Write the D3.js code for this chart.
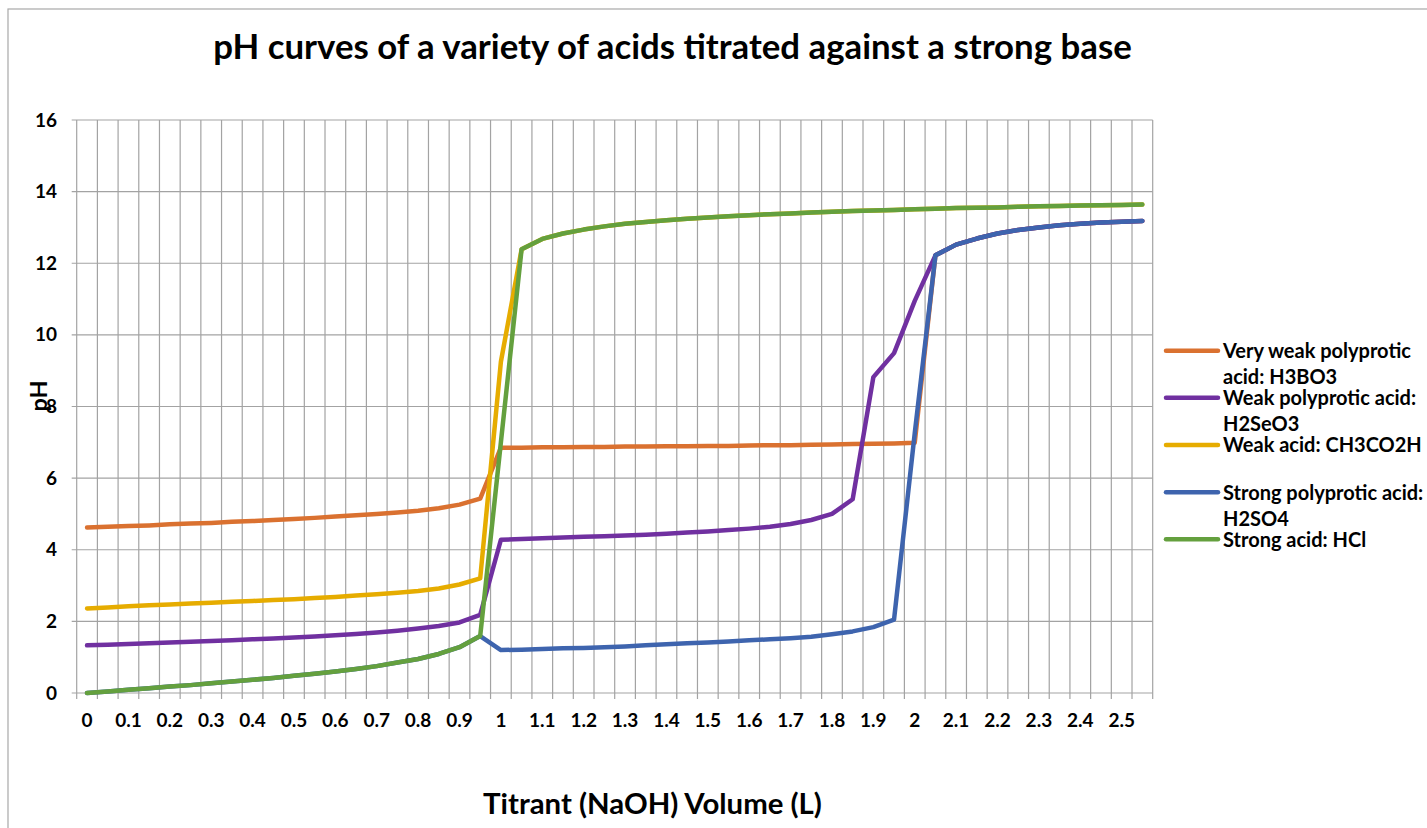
<!DOCTYPE html>
<html>
<head>
<meta charset="utf-8">
<script src="https://cdn.jsdelivr.net/npm/d3@7"></script>
<style>
  html, body { margin: 0; padding: 0; background: #fff; }
  svg { display: block; }
  text { font-family: Lato, "Open Sans", "Liberation Sans", sans-serif; font-weight: bold; fill: #000; }
</style>
</head>
<body>
<svg id="chart" width="1427" height="828"></svg>
<script>
// ---------- data ----------
const categories = ["0","0.05","0.1","0.15","0.2","0.25","0.3","0.35","0.4","0.45","0.5","0.55","0.6","0.65","0.7","0.75","0.8","0.85","0.9","0.95","1","1.05","1.1","1.15","1.2","1.25","1.3","1.35","1.4","1.45","1.5","1.55","1.6","1.65","1.7","1.75","1.8","1.85","1.9","1.95","2","2.05","2.1","2.15","2.2","2.25","2.3","2.35","2.4","2.45","2.5","2.55"];
const tickLabels = ["0","","0.1","","0.2","","0.3","","0.4","","0.5","","0.6","","0.7","","0.8","","0.9","","1","","1.1","","1.2","","1.3","","1.4","","1.5","","1.6","","1.7","","1.8","","1.9","","2","","2.1","","2.2","","2.3","","2.4","","2.5",""];
const yTicks = [0,2,4,6,8,10,12,14,16];

const h3bo3 = [4.62,4.64,4.66,4.68,4.71,4.73,4.75,4.78,4.80,4.83,4.86,4.89,4.93,4.96,5.00,5.04,5.09,5.16,5.26,5.43,
  6.85,6.85,6.86,6.86,6.87,6.87,6.88,6.88,6.89,6.89,6.90,6.90,6.91,6.92,6.92,6.93,6.94,6.95,6.96,6.97,6.99,
  12.22,12.52,12.69,12.83,12.93,13.00,13.06,13.10,13.14,13.16,13.18];
const h2seo3 = [1.33,1.35,1.37,1.39,1.41,1.43,1.45,1.47,1.50,1.52,1.55,1.58,1.61,1.65,1.69,1.74,1.80,1.87,1.97,2.18,
  4.28,4.30,4.32,4.34,4.36,4.38,4.40,4.42,4.45,4.48,4.51,4.55,4.59,4.64,4.72,4.83,5.00,5.41,8.82,9.49,10.95,
  12.22,12.52,12.69,12.83,12.93,13.00,13.06,13.10,13.14,13.16,13.18];
const ch3co2h = [2.36,2.39,2.42,2.45,2.47,2.50,2.52,2.55,2.57,2.60,2.62,2.65,2.68,2.72,2.76,2.80,2.85,2.92,3.03,3.20,
  9.25,12.39,12.68,12.83,12.94,13.03,13.10,13.15,13.20,13.24,13.28,13.31,13.34,13.37,13.39,13.42,13.44,13.46,13.47,13.49,
  13.51,13.52,13.54,13.55,13.56,13.58,13.59,13.60,13.61,13.62,13.63,13.64];
const h2so4 = [0,0.04,0.09,0.13,0.18,0.22,0.27,0.32,0.37,0.42,0.48,0.54,0.60,0.67,0.75,0.85,0.95,1.09,1.28,1.59,
  1.20,1.21,1.23,1.25,1.26,1.28,1.30,1.33,1.36,1.39,1.41,1.44,1.47,1.50,1.53,1.57,1.64,1.72,1.84,2.05,7.25,
  12.22,12.52,12.69,12.83,12.93,13.00,13.06,13.10,13.14,13.16,13.18];
const hcl = [0,0.04,0.09,0.13,0.18,0.22,0.27,0.32,0.37,0.42,0.48,0.54,0.60,0.67,0.75,0.85,0.95,1.09,1.28,1.59,
  7.00,12.39,12.68,12.83,12.94,13.03,13.10,13.15,13.20,13.24,13.28,13.31,13.34,13.37,13.39,13.42,13.44,13.46,13.47,13.49,
  13.51,13.52,13.54,13.55,13.56,13.58,13.59,13.60,13.61,13.62,13.63,13.64];

const seriesNames = [["Very weak polyprotic","acid: H3BO3"],["Weak polyprotic acid:","H2SeO3"],["Weak acid: CH3CO2H"],["Strong polyprotic acid:","H2SO4"],["Strong acid: HCl"]];
const seriesValues = [h3bo3, h2seo3, ch3co2h, h2so4, hcl];
const seriesColors = ["#DA7130","#7030A0","#E6AC00","#3E64AE","#64A03E"];

const titleText = "pH curves of a variety of acids titrated against a strong base";
const xTitle = "Titrant (NaOH) Volume (L)";
const yTitle = "pH";

// ---------- layout ----------
const svg = d3.select("#chart");
const W = 1427, H = 828;
const plot = {left: 76.7, right: 1152.7, top: 120, bottom: 693};
const gridColor = "#a3a3a3";

svg.append("rect").attr("width", W).attr("height", H).attr("fill", "#fff");
// chart border (cropped at right/bottom)
svg.append("rect").attr("x", 8).attr("y", 9).attr("width", W + 20).attr("height", H + 20)
  .attr("fill", "none").attr("stroke", "#a8a8a8").attr("stroke-width", 1.2);

const x = d3.scaleBand().domain(categories).range([plot.left, plot.right]).padding(0);
const y = d3.scaleLinear().domain([0, 16]).range([plot.bottom, plot.top]);

// horizontal gridlines (extend left as tick marks)
svg.append("g").selectAll("line").data(yTicks).join("line")
  .attr("x1", plot.left - 5).attr("x2", plot.right)
  .attr("y1", d => y(d)).attr("y2", d => y(d))
  .attr("stroke", gridColor).attr("stroke-width", 1.2);

// vertical gridlines at band boundaries (extend below as tick marks)
const bounds = categories.map(c => x(c)).concat([x(categories[categories.length - 1]) + x.bandwidth()]);
svg.append("g").selectAll("line").data(bounds).join("line")
  .attr("x1", d => d).attr("x2", d => d)
  .attr("y1", plot.top).attr("y2", plot.bottom + 6)
  .attr("stroke", gridColor).attr("stroke-width", 1.2);

// y tick labels
svg.append("g").selectAll("text").data(yTicks).join("text")
  .attr("x", 57).attr("y", d => y(d) + 6.5)
  .attr("text-anchor", "end").attr("font-size", 19)
  .text(d => d);

// x tick labels
svg.append("g").selectAll("text").data(categories.map((c, i) => ({c, label: tickLabels[i]})).filter(d => d.label !== ""))
  .join("text")
  .attr("x", d => x(d.c) + x.bandwidth() / 2).attr("y", 727)
  .attr("text-anchor", "middle").attr("font-size", 19)
  .text(d => d.label);

// series lines
const line = d3.line()
  .defined(d => d.v !== null)
  .x(d => x(d.c) + x.bandwidth() / 2)
  .y(d => y(d.v));

seriesValues.forEach((vals, si) => {
  svg.append("path")
    .datum(categories.map((c, i) => ({c, v: vals[i]})))
    .attr("d", line)
    .attr("fill", "none")
    .attr("stroke", seriesColors[si])
    .attr("stroke-width", 4.5)
    .attr("stroke-linejoin", "round")
    .attr("stroke-linecap", "round");
});

// helper: fit text to a target width
function fitText(sel, targetWidth, startSize) {
  sel.attr("font-size", startSize);
  const w = sel.node().getComputedTextLength();
  if (w > 0) sel.attr("font-size", startSize * targetWidth / w);
}

// title
const t = svg.append("text").attr("x", 672.5).attr("y", 59).attr("text-anchor", "middle").text(titleText);
fitText(t, 919, 28);

// x axis title
const xt = svg.append("text").attr("x", 652.5).attr("y", 814).attr("text-anchor", "middle").text(xTitle);
fitText(xt, 339, 24);

// y axis title
const yt = svg.append("text").attr("transform", "translate(47,396) rotate(-90)").attr("text-anchor", "middle").text(yTitle);
fitText(yt, 31, 24);

// legend
const legendY = [350.7, 397.7, 445, 492.3, 539.3];
const lg = svg.append("g");
const probe = lg.append("text").attr("font-size", 17).text(seriesNames[0][0]);
const legendFont = 17 * 188 / probe.node().getComputedTextLength();
probe.remove();

seriesNames.forEach((lines, i) => {
  lg.append("line")
    .attr("x1", 1166).attr("x2", 1218)
    .attr("y1", legendY[i]).attr("y2", legendY[i])
    .attr("stroke", seriesColors[i]).attr("stroke-width", 4.5).attr("stroke-linecap", "round");
  lines.forEach((ln, j) => {
    lg.append("text")
      .attr("x", 1223).attr("y", legendY[i] + j * 26 + legendFont * 0.36)
      .attr("font-size", legendFont)
      .text(ln);
  });
});
</script>
</body>
</html>
